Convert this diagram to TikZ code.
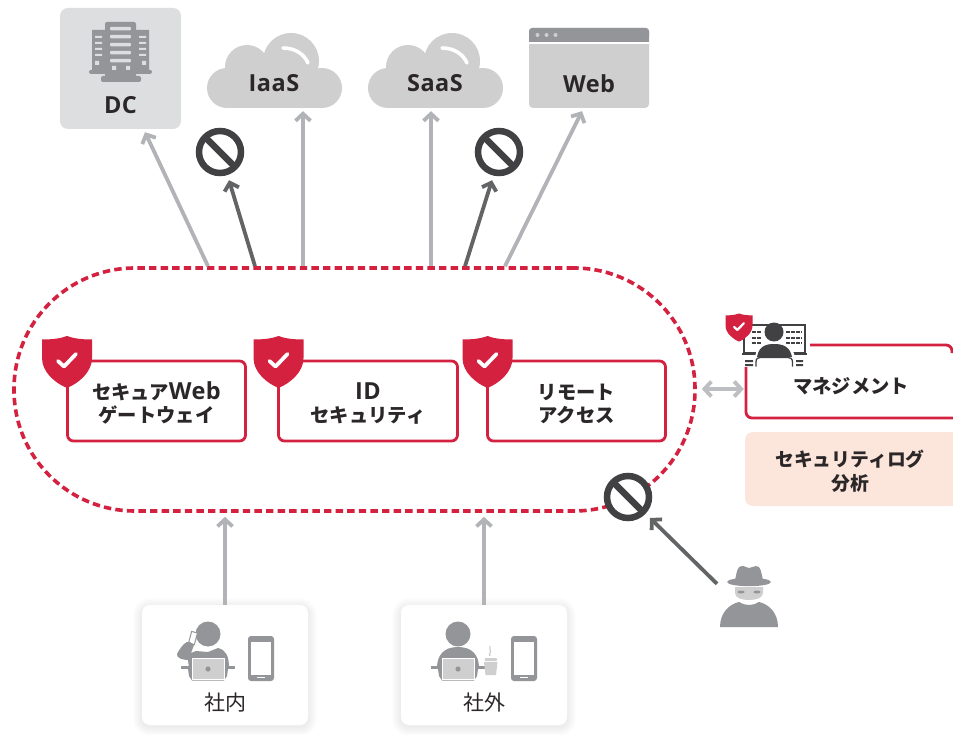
\documentclass[tikz,border=0pt]{standalone}
\usepackage{fontspec}
\setmainfont{Noto Sans CJK JP}
\newfontfamily\latf{Open Sans}[LetterSpace=2]
\usetikzlibrary{arrows.meta}
\definecolor{crim}{HTML}{D3213F}
\definecolor{arrowgrey}{HTML}{B1B3B6}
\definecolor{arrowdark}{HTML}{636466}
\definecolor{signdark}{HTML}{414042}
\definecolor{icongrey}{HTML}{939598}
\definecolor{lightgrey}{HTML}{CFCFD0}
\definecolor{dcgrey}{HTML}{DDDEDF}
\definecolor{peach}{HTML}{FCE6DC}
\definecolor{txt}{HTML}{2B2728}
\newcommand{\lt}[1]{{\latf\bfseries\fontsize{23.5}{25}\selectfont #1}}
\newcommand{\topstrut}{\rule{0pt}{21.5pt}}
\tikzset{
  x=1pt,y=-1pt,
  garrow/.style={draw=arrowgrey,line width=3.8pt,-{Straight Barb[length=7pt,width=15pt,line width=3.8pt]}},
  darrow/.style={draw=arrowdark,line width=3.8pt,-{Straight Barb[length=7pt,width=15pt,line width=3.8pt]}},
  dbarrow/.style={draw=arrowgrey!85,line width=3.8pt,{Straight Barb[length=7pt,width=15pt,line width=3.8pt]}-{Straight Barb[length=7pt,width=15pt,line width=3.8pt]}},
  zonebox/.style={draw=crim,line width=3.6pt,dash pattern=on 7.4pt off 4.2pt,rounded corners=121pt,minimum width=681pt,minimum height=243pt,inner sep=0pt},
  redbox/.style={draw=crim,line width=2.8pt,fill=white,rounded corners=6pt,minimum height=80pt,inner sep=0pt,align=center,text=txt,font=\fontsize{19.3}{25}\selectfont\bfseries},
  lab/.style={text=txt,inner sep=0pt,align=center},
  clientlab/.style={text=txt,inner sep=0pt,font=\fontsize{21}{24}\selectfont},
  signmark/.style={draw=signdark,line width=6.5pt,circle,minimum size=42pt,inner sep=0pt,fill=white},
  clientbox/.style={fill=white,rounded corners=8pt,minimum width=166pt,minimum height=120pt,inner sep=0pt},
  pics/shield/.style={code={
    \fill[crim] (0,0) .. controls (-8,3) and (-17,3.5) .. (-25,3.5) -- (-25,22)
      .. controls (-25,36) and (-12,47) .. (0,52)
      .. controls (12,47) and (25,36) .. (25,22) -- (25,3.5)
      .. controls (17,3.5) and (8,3) .. (0,0) -- cycle;
    \draw[white,line width=#1,line cap=round,line join=round] (-9,25) -- (-3,30.5) -- (9,18);
  }},
  pics/cloudform/.style={code={
    \fill[lightgrey] (20,55) circle[radius=20pt] (115,55) circle[radius=20pt]
      (40,34) circle[radius=22pt] (84,28) circle[radius=28pt];
    \fill[lightgrey] (20,40) rectangle (115,75);
    \draw[white,line width=3.6pt,line cap=round] (#1,15) .. controls (#1+12,15) and (#1+21,21) .. (#1+25,30);
  }},
  pics/phone/.style={code={
    \fill[icongrey,rounded corners=3pt] (0,0) rectangle (26,45);
    \fill[white] (3,6) rectangle (23,38.5);
    \fill[white] (9,41) rectangle (17,42);
  }},
  pics/laptop/.style={code={
    \fill[icongrey] (-27,32) rectangle (27,35);
    \fill[icongrey] (-20,35) -- (20,35) -- (19,42) -- (16,46.5) -- (-16,46.5) -- (-19,42) -- cycle;
    \fill[lightgrey,draw=white,line width=.8pt] (-16,24.5) rectangle (16,45);
    \fill[icongrey] (0,35) circle[radius=2.6pt];
  }},
}
\newcommand{\softshadow}[4]{%
  \foreach \s in {1,2,...,9}{
    \fill[black,opacity=0.008,rounded corners=8pt+\s pt] (#1-\s,#2-\s+2) rectangle (#3+\s,#4+\s+2);
  }}
\begin{document}
\begin{tikzpicture}
\useasboundingbox (0,0) rectangle (953,735);
\fill[white] (0,0) rectangle (953,735);

% --- targets ---
\node[fill=dcgrey,rounded corners=8pt,minimum width=121pt,minimum height=121pt,inner sep=0pt] (dc) at (120.5,68.5) {};
\node[minimum width=135pt,minimum height=75pt,inner sep=0pt] (iaas) at (274.5,70.5) {};
\node[minimum width=135pt,minimum height=75pt,inner sep=0pt] (saas) at (435.5,70.5) {};
\node[fill=lightgrey,rounded corners=4pt,minimum width=120pt,minimum height=80pt,inner sep=0pt] (web) at (589,68) {};
\pic at (207,33) {cloudform=76};
\pic at (368,33) {cloudform=74};

% DC icon
\fill[icongrey] (92,30) rectangle (105,71) (136,30) rectangle (149,71);
\fill[icongrey,rounded corners=1.5pt] (89,70) rectangle (152,74);
\fill[icongrey,rounded corners=2pt] (105,22) rectangle (136,78);
\fill[icongrey,rounded corners=2pt] (101,76) rectangle (141,82);
\foreach \yy in {27,35,43,51,59}{\fill[dcgrey,rounded corners=1pt] (110,\yy) rectangle (131,\yy+3.4);}
\foreach \yy in {36,42,48,54}{\fill[dcgrey] (95,\yy) rectangle (102,\yy+2) (139,\yy) rectangle (146,\yy+2);}
\fill[dcgrey] (95,61) rectangle (99,65) (142,61) rectangle (146,65);
\fill[dcgrey] (112,66) rectangle (116,70) (126,66) rectangle (130,70);
\node[lab] (dclab) at (120.5,105.5) {\lt{DC}};
\node[lab] (iaaslab) at (274,83.5) {\lt{IaaS}};
\node[lab] (saaslab) at (435,83.5) {\lt{SaaS}};

% Web window
\fill[icongrey,rounded corners=3pt] (529,28) rectangle (649,40);
\fill[icongrey] (529,34) rectangle (649,42);
\fill[white] (529,42) rectangle (649,44.5);
\foreach \xx in {537.5,546.5,555.5}{\fill[lightgrey] (\xx,35) circle[radius=2pt];}
\node[lab] (weblab) at (589,83.5) {\lt{Web}};

% --- connectors ---
\node[zonebox] (zone) at (354.5,389.5) {};
\node[signmark] (sign1) at (220,152) {};
\node[signmark] (sign2) at (499,152) {};
\node[signmark] (sign3) at (628,497) {};

\draw[garrow] ([xshift=-146.5pt]zone.north) -- ([xshift=24.5pt,yshift=-3pt]dc.south);
\draw[darrow] ([xshift=-99.5pt]zone.north) -- ([xshift=9pt,yshift=-4pt]sign1.south);
\draw[garrow] ([xshift=-51.5pt]zone.north) -- ([xshift=28.5pt,yshift=-3pt]iaas.south);
\draw[garrow] ([xshift=76.5pt]zone.north) -- ([xshift=-4.5pt,yshift=-3pt]saas.south);
\draw[darrow] ([xshift=110.5pt]zone.north) -- ([xshift=-7pt,yshift=-4pt]sign2.south);
\draw[garrow] ([xshift=150.5pt]zone.north) -- ([xshift=-7pt,yshift=-3pt]web.south);
\draw[line width=6.5pt,signdark] ([xshift=1pt,yshift=-1pt]sign1.north west) -- ([xshift=-1pt,yshift=1pt]sign1.south east);
\draw[line width=6.5pt,signdark] ([xshift=1pt,yshift=-1pt]sign2.north west) -- ([xshift=-1pt,yshift=1pt]sign2.south east);
\draw[line width=6.5pt,signdark] ([xshift=1pt,yshift=-1pt]sign3.north west) -- ([xshift=-1pt,yshift=1pt]sign3.south east);

% --- service boxes ---
\node[redbox,minimum width=178pt] (swg) at (156.5,401) {\topstrut セキュア\lt{Web}\\[-1.5pt]ゲートウェイ};
\node[redbox,minimum width=179pt] (ids) at (368,401) {\topstrut\lt{ID}\\[-1.5pt]セキュリティ};
\node[redbox,minimum width=178pt] (ra) at (576.5,401) {\topstrut リモート\\[-1.5pt]アクセス};
\pic at (67,336) {shield=3.8pt};
\pic at (278.5,336) {shield=3.8pt};
\pic at (487.5,336) {shield=3.8pt};

% --- management ---
\node[minimum width=207pt,minimum height=73pt,inner sep=0pt,text=txt,font=\fontsize{19.3}{25}\selectfont\bfseries] (mgmt) at (849.5,386) {\hspace{3pt}マネジメント};
\draw[crim,line width=2.8pt,rounded corners=6pt] (746,367) -- (746,418) -- (953,418);
\draw[crim,line width=2.8pt,rounded corners=6pt] (810,345) -- (952,345) -- (952,353);
\draw[dbarrow] ([xshift=-44pt,yshift=-3pt]mgmt.west) -- ([xshift=-2pt,yshift=-3pt]mgmt.west);
\node[fill=peach,rounded corners=8pt,minimum width=214pt,minimum height=74pt,inner sep=0pt,text=txt,align=center,font=\fontsize{18.8}{25}\selectfont\bfseries] (log) at (852,469) {\hspace{-4pt}\topstrut セキュリティログ\\[-1pt]\hspace{-4pt}分析};

% manager icon
\draw[signdark,line width=2pt,fill=white] (744,325) rectangle (805,353);
\fill[signdark] (742,353) rectangle (807,355);
\foreach \yy in {332,338,343}{
  \draw[signdark,line width=1.4pt,dash pattern=on 3.5pt off 1.5pt] (752,\yy) -- (762,\yy);
  \draw[signdark,line width=1.4pt,dash pattern=on 3.5pt off 1.5pt] (786,\yy) -- (802,\yy);
}
\fill[signdark] (745,360) rectangle (753,362) (745,364) rectangle (753,366);
\fill[signdark] (796,360) rectangle (803,362) (796,364) rectangle (803,366);
\fill[white] (755,366.5) -- (755,357) .. controls (757,344) and (765,341) .. (774,341) .. controls (783,341) and (792,344) .. (795,357) -- (795,366.5) -- cycle;
\fill[signdark] (757,357) .. controls (759,346) and (766,344) .. (774,344) .. controls (782,344) and (790,346) .. (792,357) -- cycle;
\draw[signdark,line width=1.3pt] (756,366.5) -- (756,362) .. controls (756,358.5) and (758,357.5) .. (760,357.5) -- (788,357.5) .. controls (790,357.5) and (792.5,358.5) .. (792.5,362) -- (792.5,366.5);
\fill[signdark] (774,332) circle[radius=9.5pt];
\pic[scale=0.54] at (739,313.5) {shield=2.2pt};

% --- clients ---
\softshadow{142}{605}{308}{725}
\softshadow{401}{605}{567}{725}
\node[clientbox] (int) at (225,665) {};
\node[clientbox] (ext) at (484,665) {};
\draw[garrow] (int.north) -- ([yshift=-4pt]int.north |- zone.south);
\draw[garrow] (ext.north) -- ([yshift=-4pt]ext.north |- zone.south);
\node[clientlab] (intlab) at (225,703) {社内};
\node[clientlab] (extlab) at (484,703) {社外};

% person inside
\fill[icongrey] (208,634) circle[radius=12.5pt];
\fill[white,draw=icongrey,line width=1pt,rotate around={-15:(193,638)}] (190,632) rectangle (196,644);
\fill[icongrey] (177,654) .. controls (180,648) and (186,640) .. (190,642) -- (194,645) -- (191,653) -- (196,651) -- (208,652) -- (218,648) .. controls (226,650) and (229,656) .. (229,668) -- (189,668) -- (188,660) .. controls (183,660) and (176,658) .. (177,654) -- cycle;
\pic at (208,634) {laptop};
\pic at (248,636) {phone};

% person outside
\fill[icongrey] (458,634) circle[radius=12.5pt];
\fill[icongrey] (437,668) .. controls (437,655) and (444,647) .. (458,647) .. controls (472,647) and (479,655) .. (479,668) -- cycle;
\pic at (458,634) {laptop};
\fill[lightgrey] (484,662) -- (497.5,662) -- (496,675) -- (485.5,675) -- cycle;
\fill[lightgrey,rounded corners=1pt] (484.5,658) rectangle (497,661);
\draw[lightgrey,line width=1.3pt] (490,656) .. controls (488,654) and (492,652) .. (490,650) .. controls (489,648) and (491,647) .. (490,646);
\pic at (511,636) {phone};

% --- attacker ---
\node[minimum width=58pt,minimum height=62pt,inner sep=0pt] (spy) at (749,596) {};
\draw[darrow] ([xshift=-32pt,yshift=-19pt]spy.north) -- ([xshift=22pt,yshift=-21pt]sign3.center);
\fill[icongrey] (735,580) .. controls (737,572) and (737,566) .. (742,566) .. controls (746,566) and (746,568) .. (749,568) .. controls (752,568) and (753,566) .. (756,566) .. controls (761,566) and (761,572) .. (763,580) -- cycle;
\fill[icongrey] (749,582) ellipse[x radius=22pt,y radius=4.2pt];
\fill[lightgrey] (735,587) -- (763,587) -- (763,593) .. controls (763,598) and (756,600) .. (749,600) .. controls (742,600) and (735,598) .. (735,593) -- cycle;
\fill[icongrey] (741,592) ellipse[x radius=3.5pt,y radius=1.5pt] (757,592) ellipse[x radius=3.5pt,y radius=1.5pt];
\fill[icongrey] (720,627) .. controls (720,612) and (730,604) .. (739,602) .. controls (745,606) and (753,606) .. (759,602) .. controls (768,604) and (778,612) .. (778,627) -- cycle;
\end{tikzpicture}
\end{document}
